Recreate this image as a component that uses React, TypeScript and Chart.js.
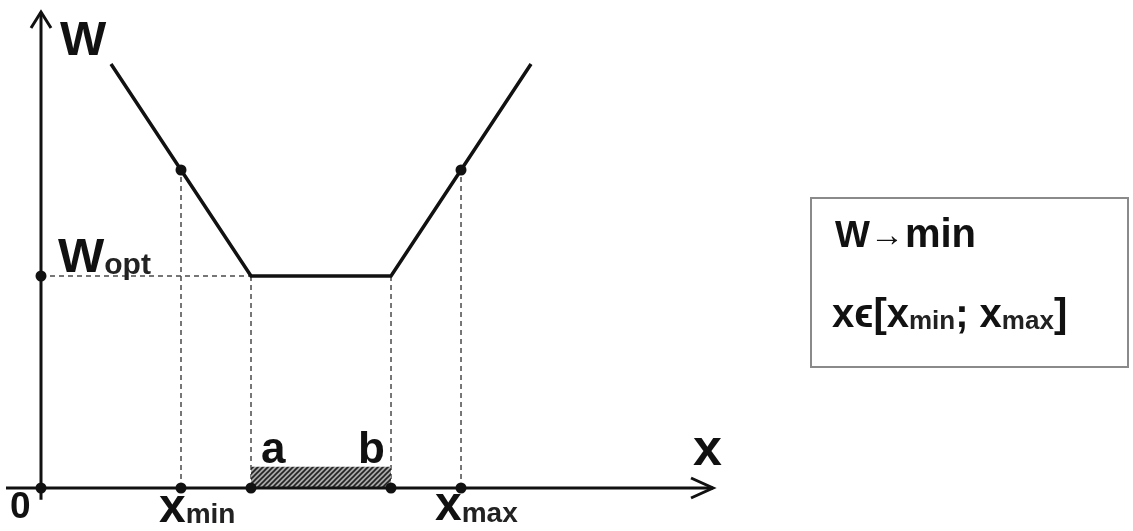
import { useEffect, useRef } from "react";
import Chart from "chart.js/auto";

// Objective function W(x): piecewise-linear, flat at the optimum on [a; b]
const curveX = [1, 2, 3, 5, 6, 7];
const curveW = [4, 3, 2, 2, 3, 4];

// Characteristic values
const wOpt = 2;
const xMin = 2;
const xMax = 6;
const aVal = 3;
const bVal = 5;
const wAtBounds = 3;
const hatchHeight = 0.2;

// Axis extents (data units)
const xAxisFrom = -0.5;
const xAxisTo = 9.6;
const yAxisFrom = -0.11;
const yAxisTo = 4.49;

// Visible data window
const xRange = [-0.5071, 15.521];
const yRange = [-0.3538, 4.552];

const FONT = "'Liberation Sans', Arial, sans-serif";
const INK = "#111111";

type P = { x: number; y: number };
const pts = (xs: number[], ys: number[]): P[] => xs.map((x, i) => ({ x, y: ys[i] }));

const markerPoints: P[] = [
  { x: xMin, y: wAtBounds },
  { x: xMax, y: wAtBounds },
  { x: 0, y: wOpt },
  { x: 0, y: 0 },
  { x: xMin, y: 0 },
  { x: aVal, y: 0 },
  { x: bVal, y: 0 },
  { x: xMax, y: 0 },
];

const guideSegments: P[][] = [
  [{ x: xMin, y: 0 }, { x: xMin, y: wAtBounds }],
  [{ x: aVal, y: 0 }, { x: aVal, y: wOpt }],
  [{ x: bVal, y: 0 }, { x: bVal, y: wOpt }],
  [{ x: xMax, y: 0 }, { x: xMax, y: wAtBounds }],
  [{ x: 0, y: wOpt }, { x: aVal, y: wOpt }],
];

function setFont(ctx: CanvasRenderingContext2D, size: number, bold = true) {
  ctx.font = `${bold ? "bold " : ""}${size}px ${FONT}`;
}

// Draws a main glyph followed by a subscript; returns the x after the text
function drawSub(
  ctx: CanvasRenderingContext2D,
  main: string,
  sub: string,
  x: number,
  y: number,
  mainSize: number,
  subSize: number,
  subDrop: number
) {
  setFont(ctx, mainSize);
  ctx.fillStyle = INK;
  ctx.fillText(main, x, y);
  const w = ctx.measureText(main).width;
  setFont(ctx, subSize);
  ctx.fillStyle = "#222222";
  ctx.fillText(sub, x + w, y + subDrop);
  return x + w + ctx.measureText(sub).width;
}

const decorations = {
  id: "decorations",
  afterDatasetsDraw(chart: any) {
    const ctx: CanvasRenderingContext2D = chart.ctx;
    const xs = chart.scales.x;
    const ys = chart.scales.y;
    const px = (v: number) => xs.getPixelForValue(v);
    const py = (v: number) => ys.getPixelForValue(v);
    const x0 = px(0);
    const y0 = py(0);

    ctx.save();
    ctx.textBaseline = "alphabetic";
    ctx.textAlign = "left";

    // arrow heads
    ctx.strokeStyle = INK;
    ctx.lineWidth = 3;
    ctx.lineJoin = "miter";
    ctx.lineCap = "butt";
    const xTip = px(xAxisTo);
    ctx.beginPath();
    ctx.moveTo(xTip - 22, y0 - 10);
    ctx.lineTo(xTip, y0);
    ctx.lineTo(xTip - 22, y0 + 10);
    ctx.stroke();
    const yTip = py(yAxisTo);
    ctx.beginPath();
    ctx.moveTo(x0 - 10, yTip + 16);
    ctx.lineTo(x0, yTip);
    ctx.lineTo(x0 + 10, yTip + 16);
    ctx.stroke();

    ctx.fillStyle = INK;
    // axis names
    setFont(ctx, 49);
    ctx.fillText("W", x0 + 19, yTip + 43);
    setFont(ctx, 52);
    ctx.fillText("x", xTip - 20, y0 - 23);
    setFont(ctx, 37);
    ctx.fillText("0", x0 - 31, y0 + 30);

    // W_opt on the vertical axis
    drawSub(ctx, "W", "opt", x0 + 17, py(wOpt) - 4, 49, 30, 2);

    // x_min, x_max under the horizontal axis
    drawSub(ctx, "x", "min", px(xMin) - 22, y0 + 34, 48, 28, 1);
    drawSub(ctx, "x", "max", px(xMax) - 26, y0 + 32, 48, 28, 2);

    // a, b over the hatched interval
    setFont(ctx, 44);
    ctx.fillStyle = INK;
    ctx.fillText("a", px(aVal) + 10, y0 - 25);
    ctx.fillText("b", px(bVal) - 33, y0 - 25);

    // problem statement box
    const bx = 811;
    const by = 198;
    const bw = 317;
    const bh = 169;
    ctx.strokeStyle = "#8a8a8a";
    ctx.lineWidth = 2;
    ctx.strokeRect(bx, by, bw, bh);

    let cx = bx + 24;
    setFont(ctx, 37);
    ctx.fillStyle = INK;
    ctx.fillText("W", cx, 247);
    cx += ctx.measureText("W").width;
    setFont(ctx, 34, false);
    ctx.fillText("→", cx, 246);
    cx += ctx.measureText("→").width + 1;
    setFont(ctx, 40);
    ctx.fillText("min", cx, 247);

    cx = bx + 21;
    const base = 327;
    setFont(ctx, 40);
    ctx.fillText("xϵ[", cx, base);
    cx += ctx.measureText("xϵ[").width;
    cx = drawSub(ctx, "x", "min", cx, base, 40, 26, 2);
    setFont(ctx, 40);
    ctx.fillStyle = INK;
    ctx.fillText("; ", cx, base);
    cx += ctx.measureText("; ").width;
    cx = drawSub(ctx, "x", "max", cx, base, 40, 26, 2);
    setFont(ctx, 40);
    ctx.fillStyle = INK;
    ctx.fillText("]", cx, base);

    ctx.restore();
  },
};

function makeHatch(ctx: CanvasRenderingContext2D): CanvasPattern | string {
  const c = document.createElement("canvas");
  c.width = 5;
  c.height = 5;
  const g = c.getContext("2d");
  if (!g) return "#777";
  g.fillStyle = "#a8a8a8";
  g.fillRect(0, 0, 5, 5);
  g.strokeStyle = "#222222";
  g.lineWidth = 1.6;
  g.beginPath();
  g.moveTo(-1, 6);
  g.lineTo(6, -1);
  g.moveTo(-1, 1);
  g.lineTo(1, -1);
  g.moveTo(4, 6);
  g.lineTo(6, 4);
  g.stroke();
  return ctx.createPattern(c, "repeat") || "#777";
}

export default function App() {
  const canvasRef = useRef<HTMLCanvasElement | null>(null);

  useEffect(() => {
    const canvas = canvasRef.current;
    if (!canvas) return;
    const ctx = canvas.getContext("2d");
    if (!ctx) return;
    const hatch = makeHatch(ctx);

    const line = (data: P[], extra: any) => ({
      data,
      showLine: true,
      pointRadius: 0,
      borderColor: INK,
      clip: false,
      tension: 0,
      ...extra,
    });

    const chart = new Chart(canvas, {
      type: "scatter",
      data: {
        datasets: [
          {
            label: "markers",
            data: markerPoints,
            pointRadius: 5.5,
            pointBackgroundColor: INK,
            pointBorderWidth: 0,
            showLine: false,
            clip: false,
            order: 0,
          },
          line(pts(curveX, curveW), { label: "W(x)", borderWidth: 3.5, order: 1 }),
          line([{ x: xAxisFrom, y: 0 }, { x: xAxisTo, y: 0 }], { label: "x axis", borderWidth: 3, order: 2 }),
          line([{ x: 0, y: yAxisFrom }, { x: 0, y: yAxisTo }], { label: "W axis", borderWidth: 3, order: 2 }),
          line([{ x: aVal, y: hatchHeight }, { x: bVal, y: hatchHeight }], {
            label: "[a; b]",
            borderWidth: 0,
            borderColor: "rgba(0,0,0,0)",
            backgroundColor: hatch,
            fill: "origin",
            order: 3,
          }),
          ...guideSegments.map((seg, i) =>
            line(seg, {
              label: `guide ${i}`,
              borderWidth: 1.5,
              borderColor: "#4a4a4a",
              borderDash: [5, 4],
              order: 4,
            })
          ),
        ],
      },
      options: {
        animation: false,
        responsive: true,
        maintainAspectRatio: false,
        layout: { padding: 0 },
        plugins: {
          legend: { display: false },
          tooltip: { enabled: false },
          title: { display: false },
        },
        scales: {
          x: { type: "linear", min: xRange[0], max: xRange[1], display: false },
          y: { type: "linear", min: yRange[0], max: yRange[1], display: false },
        },
      },
      plugins: [decorations],
    });

    return () => chart.destroy();
  }, []);

  return (
    <div
      style={{
        position: "absolute",
        left: 0,
        top: 0,
        width: 1133,
        height: 531,
        background: "#ffffff",
      }}
    >
      <canvas ref={canvasRef} />
    </div>
  );
}
